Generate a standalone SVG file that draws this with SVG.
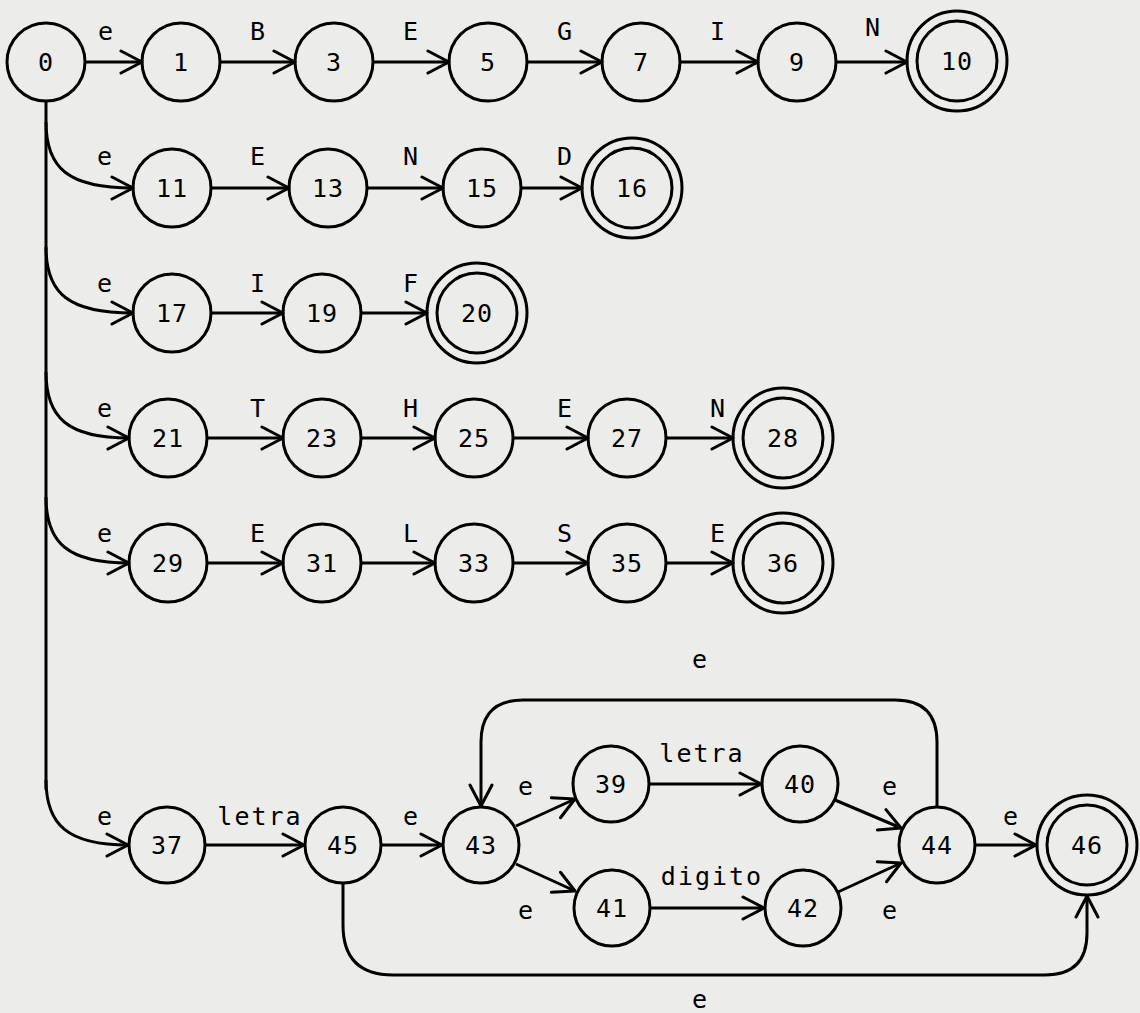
<svg xmlns="http://www.w3.org/2000/svg" width="1140" height="1013" viewBox="0 0 1140 1013">
<defs>
<marker id="ah" viewBox="-24 -13 26 26" refX="0" refY="0" markerWidth="26" markerHeight="26" markerUnits="userSpaceOnUse" orient="auto">
<path d="M-21,-11 L0,0 L-21,11" fill="none" stroke="#000" stroke-width="3" stroke-linecap="round" stroke-linejoin="round"/>
</marker>
</defs>
<style>
.n{fill:none;stroke:#000;stroke-width:3}
.t{font-family:"DejaVu Sans Mono","Liberation Mono",monospace;font-size:25px;fill:#000;text-anchor:middle;letter-spacing:1px}
.l{font-family:"DejaVu Sans Mono","Liberation Mono",monospace;font-size:25px;fill:#000;text-anchor:middle;letter-spacing:2px}
.e{fill:none;stroke:#000;stroke-width:3;marker-end:url(#ah)}
.p{fill:none;stroke:#000;stroke-width:3}
</style>
<rect width="1140" height="1013" fill="#ececea"/>
<g id="connectors">
<path class="p" d="M46,100 L46,790"/>
<path class="e" d="M84,62 L142,62"/>
<path class="e" d="M220,62 L295,62"/>
<path class="e" d="M373,62 L449,62"/>
<path class="e" d="M527,62 L602,62"/>
<path class="e" d="M680,62 L758,62"/>
<path class="e" d="M836,62 L907,62"/>
<path class="e" d="M46,122 C46,168 68,188 133,188"/>
<path class="e" d="M46,247 C46,293 68,313 133,313"/>
<path class="e" d="M211,188 L289,188"/>
<path class="e" d="M367,188 L443,188"/>
<path class="e" d="M521,188 L582,188"/>
<path class="e" d="M211,313 L283,313"/>
<path class="e" d="M361,313 L427,313"/>
<path class="e" d="M46,372 C46,418 68,438 129,438"/>
<path class="e" d="M207,438 L283,438"/>
<path class="e" d="M361,438 L435,438"/>
<path class="e" d="M513,438 L588,438"/>
<path class="e" d="M666,438 L733,438"/>
<path class="e" d="M46,497 C46,543 68,563 129,563"/>
<path class="e" d="M207,563 L283,563"/>
<path class="e" d="M361,563 L435,563"/>
<path class="e" d="M513,563 L588,563"/>
<path class="e" d="M666,563 L733,563"/>
<path class="e" d="M46,780 C46,825 68,845 128,845"/>
<path class="e" d="M206,845 L304,845"/>
<path class="e" d="M382,845 L442,845"/>
<path class="e" d="M516,826 L575,799"/>
<path class="e" d="M516,864 L575,891"/>
<path class="e" d="M650,784 L761,784"/>
<path class="e" d="M651,908 L764,908"/>
<path class="e" d="M835,800 L901,828"/>
<path class="e" d="M838,892 L901,863"/>
<path class="e" d="M976,845 L1036,845"/>
<path class="e" d="M937,807 L937,742 Q937,700 895,700 L523,700 Q481,700 481,742 L481,806"/>
<path class="e" d="M343,883 L343,925 Q343,975 393,975 L1045,975 Q1087,975 1087,933 L1087,896"/>
</g>
<g id="labels">
<text class="t" x="106" y="40">e</text>
<text class="t" x="258" y="40">B</text>
<text class="t" x="411" y="40">E</text>
<text class="t" x="565" y="40">G</text>
<text class="t" x="718" y="40">I</text>
<text class="t" x="873" y="36">N</text>
<text class="t" x="105" y="165">e</text>
<text class="t" x="258" y="165">E</text>
<text class="t" x="411" y="165">N</text>
<text class="t" x="565" y="165">D</text>
<text class="t" x="105" y="292">e</text>
<text class="t" x="258" y="292">I</text>
<text class="t" x="411" y="292">F</text>
<text class="t" x="105" y="417">e</text>
<text class="t" x="258" y="417">T</text>
<text class="t" x="411" y="417">H</text>
<text class="t" x="565" y="417">E</text>
<text class="t" x="718" y="417">N</text>
<text class="t" x="105" y="542">e</text>
<text class="t" x="258" y="542">E</text>
<text class="t" x="411" y="542">L</text>
<text class="t" x="565" y="542">S</text>
<text class="t" x="718" y="542">E</text>
<text class="t" x="105" y="825">e</text>
<text class="l" x="260" y="825">letra</text>
<text class="t" x="411" y="825">e</text>
<text class="t" x="526" y="795">e</text>
<text class="t" x="526" y="919">e</text>
<text class="l" x="702" y="762">letra</text>
<text class="l" x="712" y="885">digito</text>
<text class="t" x="890" y="795">e</text>
<text class="t" x="890" y="919">e</text>
<text class="t" x="1011" y="825">e</text>
<text class="t" x="700" y="668">e</text>
<text class="t" x="700" y="1008">e</text>
</g>
<g id="n0"><circle class="n" cx="46" cy="62" r="39"/><text class="t" x="46" y="71">0</text></g>
<g id="n1"><circle class="n" cx="181" cy="62" r="39"/><text class="t" x="181" y="71">1</text></g>
<g id="n3"><circle class="n" cx="334" cy="62" r="39"/><text class="t" x="334" y="71">3</text></g>
<g id="n5"><circle class="n" cx="488" cy="62" r="39"/><text class="t" x="488" y="71">5</text></g>
<g id="n7"><circle class="n" cx="641" cy="62" r="39"/><text class="t" x="641" y="71">7</text></g>
<g id="n9"><circle class="n" cx="797" cy="62" r="39"/><text class="t" x="797" y="71">9</text></g>
<g id="n10"><circle class="n" cx="957" cy="61" r="50"/><circle class="n" cx="957" cy="61" r="40"/><text class="t" x="957" y="70">10</text></g>
<g id="n11"><circle class="n" cx="172" cy="188" r="39"/><text class="t" x="172" y="197">11</text></g>
<g id="n13"><circle class="n" cx="328" cy="188" r="39"/><text class="t" x="328" y="197">13</text></g>
<g id="n15"><circle class="n" cx="482" cy="188" r="39"/><text class="t" x="482" y="197">15</text></g>
<g id="n16"><circle class="n" cx="632" cy="188" r="50"/><circle class="n" cx="632" cy="188" r="40"/><text class="t" x="632" y="197">16</text></g>
<g id="n17"><circle class="n" cx="172" cy="313" r="39"/><text class="t" x="172" y="322">17</text></g>
<g id="n19"><circle class="n" cx="322" cy="313" r="39"/><text class="t" x="322" y="322">19</text></g>
<g id="n20"><circle class="n" cx="477" cy="313" r="50"/><circle class="n" cx="477" cy="313" r="40"/><text class="t" x="477" y="322">20</text></g>
<g id="n21"><circle class="n" cx="168" cy="438" r="39"/><text class="t" x="168" y="447">21</text></g>
<g id="n23"><circle class="n" cx="322" cy="438" r="39"/><text class="t" x="322" y="447">23</text></g>
<g id="n25"><circle class="n" cx="474" cy="438" r="39"/><text class="t" x="474" y="447">25</text></g>
<g id="n27"><circle class="n" cx="627" cy="438" r="39"/><text class="t" x="627" y="447">27</text></g>
<g id="n28"><circle class="n" cx="783" cy="438" r="50"/><circle class="n" cx="783" cy="438" r="40"/><text class="t" x="783" y="447">28</text></g>
<g id="n29"><circle class="n" cx="168" cy="563" r="39"/><text class="t" x="168" y="572">29</text></g>
<g id="n31"><circle class="n" cx="322" cy="563" r="39"/><text class="t" x="322" y="572">31</text></g>
<g id="n33"><circle class="n" cx="474" cy="563" r="39"/><text class="t" x="474" y="572">33</text></g>
<g id="n35"><circle class="n" cx="627" cy="563" r="39"/><text class="t" x="627" y="572">35</text></g>
<g id="n36"><circle class="n" cx="783" cy="563" r="50"/><circle class="n" cx="783" cy="563" r="40"/><text class="t" x="783" y="572">36</text></g>
<g id="n37"><circle class="n" cx="167" cy="845" r="38"/><text class="t" x="167" y="854">37</text></g>
<g id="n45"><circle class="n" cx="343" cy="845" r="38"/><text class="t" x="343" y="854">45</text></g>
<g id="n43"><circle class="n" cx="481" cy="845" r="38"/><text class="t" x="481" y="854">43</text></g>
<g id="n39"><circle class="n" cx="611" cy="784" r="38"/><text class="t" x="611" y="793">39</text></g>
<g id="n40"><circle class="n" cx="800" cy="784" r="38"/><text class="t" x="800" y="793">40</text></g>
<g id="n41"><circle class="n" cx="612" cy="908" r="38"/><text class="t" x="612" y="917">41</text></g>
<g id="n42"><circle class="n" cx="803" cy="908" r="38"/><text class="t" x="803" y="917">42</text></g>
<g id="n44"><circle class="n" cx="937" cy="845" r="38"/><text class="t" x="937" y="854">44</text></g>
<g id="n46"><circle class="n" cx="1087" cy="845" r="50"/><circle class="n" cx="1087" cy="845" r="40"/><text class="t" x="1087" y="854">46</text></g>
</svg>
